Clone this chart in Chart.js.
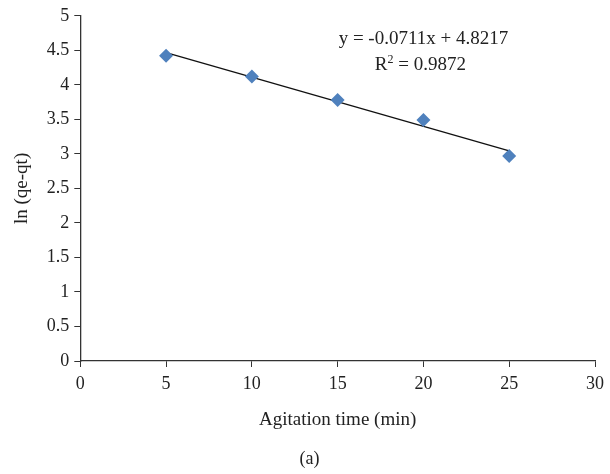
<!DOCTYPE html>
<html>
<head>
<meta charset="utf-8">
<script src="https://cdn.jsdelivr.net/npm/chart.js@4"></script>
<style>
  body { margin: 0; background: #fff; }
  #wrap { width: 610px; height: 474px; }
</style>
</head>
<body>
<div id="wrap"><canvas id="myChart"></canvas></div>
<script>
// data
var times = [5, 10, 15, 20, 25];
var lnValues = [4.42, 4.12, 3.78, 3.49, 2.97];
// trendline end points (y = -0.0711x + 4.8217)
var trendX = [5, 25];
var trendY = [4.466, 3.044];
var eqText = "y = -0.0711x + 4.8217";
var r2Value = "0.9872";

var serif = "'Liberation Serif', 'DejaVu Serif', serif";
var axisColor = "#333333";

// draws the equation and R² text
var eqPlugin = {
    id: "eqPlugin",
    afterDraw: function(chart){
        var ctx = chart.ctx;
        var xs = chart.scales.x;
        var ys = chart.scales.y;
        ctx.save();
        ctx.fillStyle = "#222";
        ctx.textAlign = "center";
        ctx.textBaseline = "middle";
        ctx.font = "19px " + serif;
        ctx.fillText(eqText, xs.getPixelForValue(20), ys.getPixelForValue(4.66));
        // R² line
        var cx = xs.getPixelForValue(20) - 3;
        var cy = ys.getPixelForValue(4.28);
        var rest = " = " + r2Value;
        var wR = ctx.measureText("R").width;
        ctx.font = "12px " + serif;
        var wSup = ctx.measureText("2").width;
        ctx.font = "19px " + serif;
        var wRest = ctx.measureText(rest).width;
        var x0 = cx - (wR + wSup + wRest) / 2;
        ctx.textAlign = "left";
        ctx.fillText("R", x0, cy);
        ctx.font = "12px " + serif;
        ctx.fillText("2", x0 + wR, cy - 6);
        ctx.font = "19px " + serif;
        ctx.fillText(rest, x0 + wR + wSup, cy);
        ctx.restore();
    }
};

var trendData = trendX.map(function(v, i){ return {x: v, y: trendY[i]}; });
var pointData = times.map(function(v, i){ return {x: v, y: lnValues[i]}; });

new Chart("myChart", {
    type: "scatter",
    data: {
        datasets: [{
            data: trendData,
            showLine: true,
            borderColor: "#111",
            borderWidth: 1.3,
            pointRadius: 0,
            order: 2
        }, {
            data: pointData,
            pointStyle: "rectRot",
            pointRadius: 7,
            pointHoverRadius: 7,
            backgroundColor: "#4F81BD",
            borderColor: "#4F81BD",
            borderWidth: 0,
            order: 1
        }]
    },
    options: {
        responsive: true,
        maintainAspectRatio: false,
        animation: false,
        layout: { padding: { top: 14, right: 2, left: 11, bottom: 4 } },
        plugins: {
            legend: { display: false },
            tooltip: { enabled: false },
            title: {
                display: true,
                text: "(a)",
                position: "bottom",
                color: "#222",
                font: { family: serif, size: 18, weight: "normal" },
                padding: { top: 17, bottom: 0 }
            }
        },
        scales: {
            x: {
                type: "linear",
                min: 0,
                max: 30,
                ticks: {
                    stepSize: 5,
                    color: "#222",
                    font: { family: serif, size: 18 },
                    padding: 6
                },
                grid: {
                    drawOnChartArea: false,
                    drawTicks: true,
                    tickLength: 6,
                    color: axisColor
                },
                border: { color: axisColor, width: 1.3 },
                title: {
                    display: true,
                    text: "Agitation time (min)",
                    color: "#222",
                    font: { family: serif, size: 19 },
                    padding: { top: 8, bottom: 0 }
                }
            },
            y: {
                min: 0,
                max: 5,
                ticks: {
                    stepSize: 0.5,
                    color: "#222",
                    font: { family: serif, size: 18 },
                    padding: 5,
                    callback: function(v){ return String(v); }
                },
                grid: {
                    drawOnChartArea: false,
                    drawTicks: true,
                    tickLength: 6,
                    color: axisColor
                },
                border: { color: axisColor, width: 1.3 },
                title: {
                    display: true,
                    text: "ln (qe-qt)",
                    color: "#222",
                    font: { family: serif, size: 19 },
                    padding: { top: 0, bottom: 8 }
                }
            }
        }
    },
    plugins: [eqPlugin]
});
</script>
</body>
</html>
